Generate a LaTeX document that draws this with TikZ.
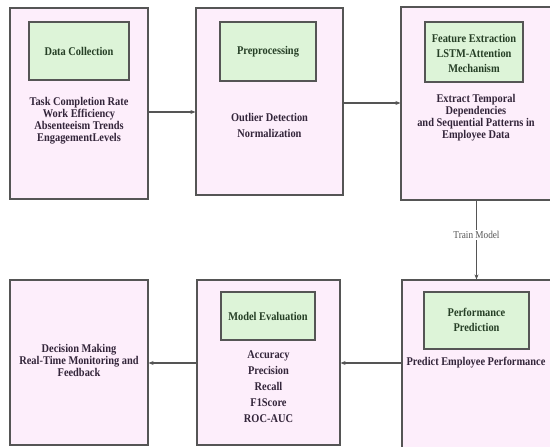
\documentclass[tikz,border=0pt]{standalone}
\usepackage{fontspec}
\setmainfont{Liberation Serif}[FakeStretch=0.88]
\usetikzlibrary{arrows.meta}
\definecolor{outerfill}{HTML}{FDEEFB}
\definecolor{innerfill}{HTML}{DDF4D8}
\definecolor{edgecol}{HTML}{555555}
\definecolor{bodytxt}{HTML}{33253A}
\definecolor{titletxt}{HTML}{263F26}
\definecolor{lbltxt}{HTML}{555555}
\tikzset{
  outerbox/.style={draw=edgecol, line width=1.2pt, fill=outerfill, rectangle, inner sep=0pt},
  innerbox/.style={draw=edgecol, line width=1.2pt, fill=innerfill, rectangle, inner sep=0pt},
  titletext/.style={text=titletxt, font=\bfseries\fontsize{11.8}{15}\selectfont, align=center, inner sep=0pt},
  bodytext/.style={text=bodytxt, font=\bfseries\fontsize{11.8}{12}\selectfont, align=center, inner sep=0pt},
  widetext/.style={text=bodytxt, font=\bfseries\fontsize{11.8}{16}\selectfont, align=center, inner sep=0pt},
  arr/.style={draw=edgecol, line width=1.2pt, -{Stealth[length=5pt,width=4pt]}},
  lbl/.style={fill=white, text=lbltxt, font=\fontsize{10.5}{11}\selectfont, inner sep=1.5pt}
}
\begin{document}
\begin{tikzpicture}[x=1pt,y=-1pt]
\useasboundingbox (0,0) rectangle (550,447);
% row 1
\node[outerbox, minimum width=138pt, minimum height=191pt] (b1) at (79,103.5) {};
\node[innerbox, minimum width=100pt, minimum height=58pt] (g1) at (79,51) {};
\node[titletext] (t1) at (79,51) {Data Collection};
\node[bodytext] (x1) at (79,121) {Task Completion Rate\\Work Efficiency\\Absenteeism Trends\\EngagementLevels};

\node[outerbox, minimum width=147pt, minimum height=187pt] (b2) at (269.5,101.5) {};
\node[innerbox, minimum width=96pt, minimum height=59pt] (g2) at (268,51.5) {};
\node[titletext] (t2) at (268,51.5) {Preprocessing};
\node[widetext] (x2) at (269.5,125) {Outlier Detection\\Normalization};

\node[outerbox, minimum width=151pt, minimum height=193pt] (b3) at (476.5,103.5) {};
\node[innerbox, minimum width=98pt, minimum height=60pt] (g3) at (474,52) {};
\node[titletext] (t3) at (474,53) {Feature Extraction\\LSTM-Attention\\Mechanism};
\node[bodytext] (x3) at (476,118) {Extract Temporal\\Dependencies\\and Sequential Patterns in\\Employee Data};

% row 2
\node[outerbox, minimum width=149pt, minimum height=168pt] (b4) at (476.5,364) {};
\node[innerbox, minimum width=105pt, minimum height=57pt] (g4) at (476.5,320.5) {};
\node[titletext] (t4) at (476.5,320) {Performance\\Prediction};
\node[bodytext] (x4) at (476,363) {Predict Employee Performance};

\node[outerbox, minimum width=143pt, minimum height=165pt] (b5) at (268.5,362.5) {};
\node[innerbox, minimum width=94pt, minimum height=48pt] (g5) at (268,316) {};
\node[titletext] (t5) at (268,316) {Model Evaluation};
\node[widetext] (x5) at (268.5,387) {Accuracy\\Precision\\Recall\\F1Score\\ROC-AUC};

\node[outerbox, minimum width=138pt, minimum height=165pt] (b6) at (79,362.5) {};
\node[bodytext] (x6) at (79,360) {Decision Making\\Real-Time Monitoring and\\Feedback};

% connectors
\draw[arr] (b1.east |- 0,112) -- (b2.west |- 0,112);
\draw[arr] (b2.east |- 0,103) -- (b3.west |- 0,103);
\draw[arr] (b3.south) -- node[lbl, pos=0.44] {Train Model} (b4.north);
\draw[arr] (b4.west |- 0,363) -- (b5.east |- 0,363);
\draw[arr] (b5.west |- 0,363) -- (b6.east |- 0,363);
\end{tikzpicture}
\end{document}
